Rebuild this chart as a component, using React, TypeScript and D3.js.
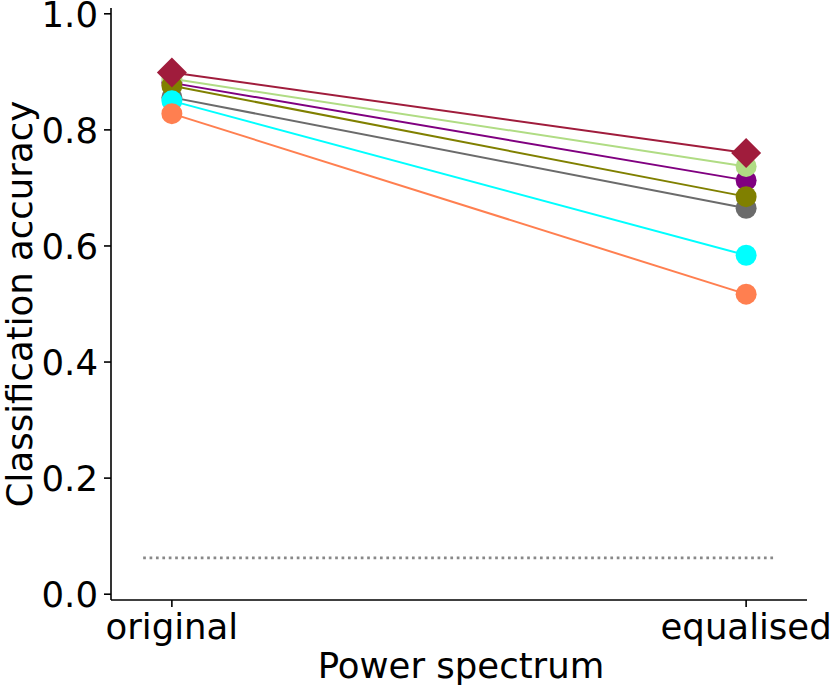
import React from "react";
import * as d3 from "d3";

const categories = ["original", "equalised"];
const seriesNames = ["grey", "purple", "lightgreen", "olive", "cyan", "coral", "red"];
const seriesColors = ["#6b6b6b", "#800080", "#b0dc84", "#808000", "#00ffff", "#ff7f50", "#a01c3c"];
const seriesMarkers = ["circle", "circle", "circle", "circle", "circle", "circle", "diamond"];
const originalValues = [0.856, 0.881, 0.888, 0.876, 0.85, 0.828, 0.899];
const equalisedValues = [0.665, 0.713, 0.737, 0.685, 0.584, 0.517, 0.76];
const chanceLevel = 1 / 16;
const yTicks = [0.0, 0.2, 0.4, 0.6, 0.8, 1.0];

const W = 830;
const H = 685;
const left = 111;
const right = 807;
const top = 8;
const bottom = 600;
const FS = 35.5;
const font = "DejaVu Sans, sans-serif";

export default function App() {
  const x = d3.scaleLinear().domain([-0.106, 1.106]).range([left, right]);
  const y = d3.scaleLinear().domain([-0.01, 1.01]).range([bottom, top]);
  const line = d3
    .line<[number, number]>()
    .x((d) => x(d[0]))
    .y((d) => y(d[1]));
  const diamond = (cx: number, cy: number, r: number) =>
    `M${cx},${cy - r}L${cx + r},${cy}L${cx},${cy + r}L${cx - r},${cy}Z`;

  return (
    <svg
      width={W}
      height={H}
      style={{ position: "absolute", left: 0, top: 0, background: "#fff" }}
      fontFamily={font}
    >
      {/* chance line */}
      <path
        d={line([
          [-0.05, chanceLevel],
          [1.05, chanceLevel],
        ]) || ""}
        stroke="#888888"
        strokeWidth={2.7}
        strokeDasharray="2.7,3.7"
        fill="none"
      />
      {seriesNames.map((name, i) => {
        const pts: [number, number][] = [
          [0, originalValues[i]],
          [1, equalisedValues[i]],
        ];
        return (
          <g key={name}>
            <path d={line(pts) || ""} stroke={seriesColors[i]} strokeWidth={2} fill="none" />
            {pts.map((p, j) =>
              seriesMarkers[i] === "diamond" ? (
                <path key={j} d={diamond(x(p[0]), y(p[1]), 15)} fill={seriesColors[i]} />
              ) : (
                <circle key={j} cx={x(p[0])} cy={y(p[1])} r={10.5} fill={seriesColors[i]} />
              )
            )}
          </g>
        );
      })}
      {/* axes */}
      <line x1={left} x2={left} y1={top} y2={bottom} stroke="#000" strokeWidth={1.6} />
      <line x1={left} x2={right} y1={bottom} y2={bottom} stroke="#000" strokeWidth={1.6} />
      {yTicks.map((t) => (
        <g key={t}>
          <line x1={left - 7} x2={left} y1={y(t)} y2={y(t)} stroke="#000" strokeWidth={1.6} />
          <text
            x={left - 13}
            y={y(t)}
            dy="0.36em"
            textAnchor="end"
            fontSize={FS}
            fill="#000"
          >
            {t.toFixed(1)}
          </text>
        </g>
      ))}
      {categories.map((c, i) => (
        <g key={c}>
          <line x1={x(i)} x2={x(i)} y1={bottom} y2={bottom + 7} stroke="#000" strokeWidth={1.6} />
          <text x={x(i)} y={bottom + 39} textAnchor="middle" fontSize={FS} fill="#000">
            {c}
          </text>
        </g>
      ))}
      <text
        x={(left + right) / 2 + 2}
        y={678}
        textAnchor="middle"
        fontSize={FS}
        fill="#000"
      >
        Power spectrum
      </text>
      <text
        transform={`translate(32,${(top + bottom) / 2}) rotate(-90)`}
        textAnchor="middle"
        fontSize={FS}
        fill="#000"
      >
        Classification accuracy
      </text>
    </svg>
  );
}
